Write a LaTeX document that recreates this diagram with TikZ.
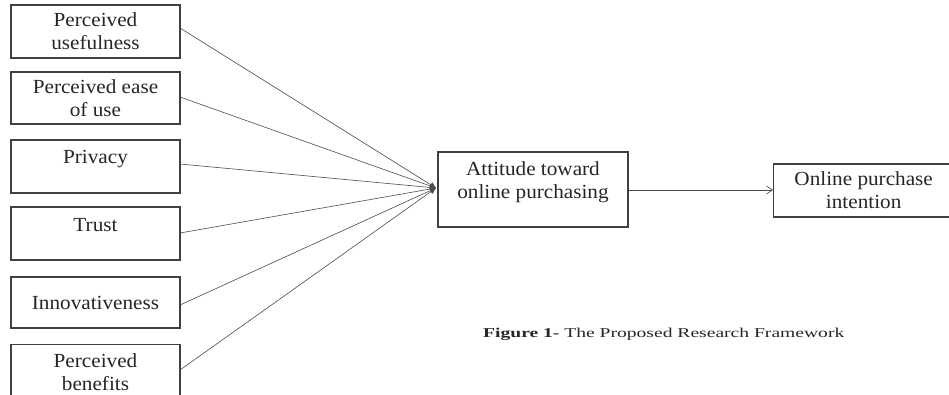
\documentclass[tikz,border=0pt]{standalone}
\usepackage{fontspec}
\setmainfont{Liberation Serif}
\usetikzlibrary{arrows.meta}
\newcommand{\wide}[1]{\scalebox{1.06}[1]{#1}}
\begin{document}
\begin{tikzpicture}[x=1pt,y=-1pt,
  box/.style={draw=black!75, line width=1.3pt, fill=white, inner sep=0pt, align=center,
     font=\fontsize{20}{23}\selectfont, text=black!85},
  link/.style={draw=black!70, line width=0.6pt}]
\useasboundingbox[fill=white] (0,0) rectangle (949,394);
\begin{scope}
\clip (0,0) rectangle (949,394);
\node[box, minimum width=169pt, minimum height=53pt] (pu) at (95.5,31.5) {\wide{Perceived}\\\wide{usefulness}};
\node[box, minimum width=169pt, minimum height=52pt] (pe) at (95.5,98) {\wide{Perceived ease}\\\wide{of use}};
\node[box, minimum width=169pt, minimum height=53pt, align=none, text height=14pt, text depth=21pt] (pr) at (95.5,166.5) {\wide{Privacy}};
\node[box, minimum width=169pt, minimum height=53pt, align=none, text height=14pt, text depth=19pt] (tr) at (95.5,233.5) {\wide{Trust}};
\node[box, minimum width=169pt, minimum height=51pt] (in) at (95.5,302.5) {\wide{Innovativeness}};
\node[box, minimum width=169pt, minimum height=56pt, anchor=north] (pb) at (95.5,344) {\wide{Perceived}\\\wide{benefits}};
\node[box, minimum width=190pt, minimum height=75pt] (at) at (533,189.5) {\wide{Attitude toward}\\\wide{online purchasing}\\[-4pt]};
\node[box, minimum width=180pt, minimum height=53pt, anchor=west] (op) at (773,190.5) {\wide{Online purchase}\\\wide{intention}};
\coordinate (hub) at (436,188);
\foreach \n/\yy in {pu/28, pe/97, pr/164, tr/233, in/305, pb/370}
  \draw[link, -{Latex[length=6pt,width=6pt]}] (180,\yy) -- (hub);
\draw[link, -{Straight Barb[length=6pt,width=8pt]}] (at.east |- 0,190) -- (op.west |- 0,190);
\node[font=\fontsize{13.5}{15}\selectfont, text=black!85, anchor=west, inner sep=0pt] (cap) at (483,334) {\scalebox{1.45}[1]{\textbf{Figure 1-} The Proposed Research Framework}};
\end{scope}
\end{tikzpicture}
\end{document}
